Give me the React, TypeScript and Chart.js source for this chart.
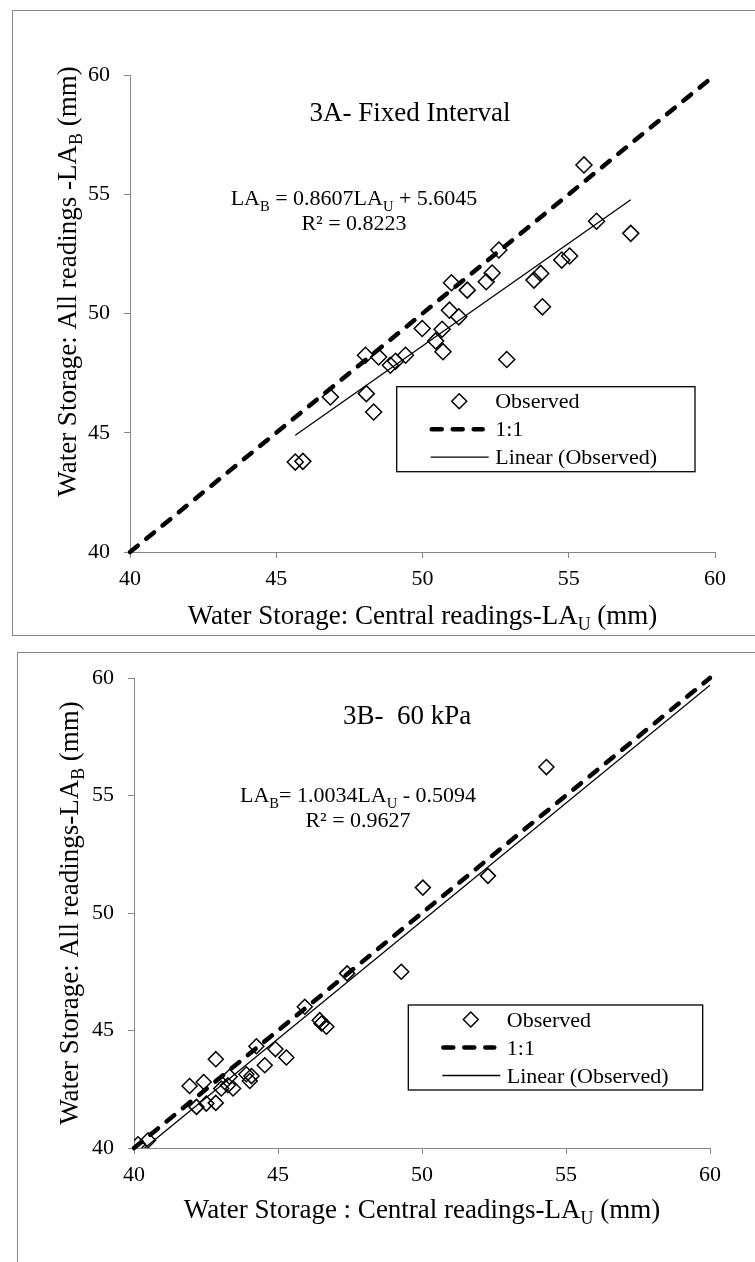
import React, { useEffect, useRef } from 'react';
import { Chart, registerables } from 'chart.js';

Chart.register(...registerables);

const FONT = "'Liberation Serif', 'Times New Roman', serif";
const GRAY = '#868686';

// ---------- Data: chart 3A (Fixed Interval) ----------
const obsXA = [55.52, 55.95, 57.12, 52.61, 52.38, 52.18, 50.99, 51.53, 50.92, 51.24,
  50.67, 49.99, 50.45, 50.70, 49.42, 49.08, 48.90, 48.05, 48.50, 48.08,
  48.33, 46.85, 45.65, 45.91, 54.10, 52.88, 53.81, 54.04, 54.76, 55.03];
const obsYA = [56.23, 53.87, 53.36, 52.66, 51.70, 51.33, 51.29, 50.98, 50.14, 49.86,
  49.34, 49.37, 48.85, 48.40, 48.25, 48.00, 47.83, 48.25, 48.18, 46.64,
  45.87, 46.50, 43.77, 43.80, 50.28, 48.07, 51.40, 51.68, 52.24, 52.41];
const fitA = [0.8607, 5.6045]; // slope, intercept
const r2A = '0.8223';

// ---------- Data: chart 3B (60 kPa) ----------
const obsXB = [40.14, 40.49, 41.93, 42.42, 42.17, 42.51, 42.84, 42.84, 43.03, 43.26,
  43.44, 43.32, 43.90, 44.08, 44.02, 44.25, 44.54, 44.91, 45.29, 45.93,
  46.45, 46.51, 46.68, 47.40, 49.28, 50.03, 52.29, 54.32];
const obsYB = [40.16, 40.33, 42.64, 42.81, 41.75, 41.89, 41.92, 43.78, 42.53, 42.67,
  42.53, 43.03, 43.14, 43.06, 42.85, 44.33, 43.52, 44.21, 43.85, 46.01,
  45.44, 45.30, 45.16, 47.43, 47.50, 51.08, 51.58, 56.21];
const fitB = [1.0034, -0.5094];
const r2B = '0.9627';

// ---------- Axes ----------
const axisRange = [40, 60];
const axisStep = 5;
const seriesLabels = ['Observed', '1:1', 'Linear (Observed)'];

type Seg = { t: string; sub?: boolean };

function font(size: number) {
  return `${size}px ${FONT}`;
}

function drawRich(ctx: CanvasRenderingContext2D, segs: Seg[], x: number, yc: number, size: number) {
  const subSize = size * 0.66;
  const widths = segs.map((s) => {
    ctx.font = font(s.sub ? subSize : size);
    return ctx.measureText(s.t).width;
  });
  const total = widths.reduce((a, b) => a + b, 0);
  let cx = x - total / 2;
  const base = yc + size * 0.33;
  ctx.textAlign = 'left';
  ctx.textBaseline = 'alphabetic';
  segs.forEach((s, i) => {
    ctx.font = font(s.sub ? subSize : size);
    ctx.fillText(s.t, cx, s.sub ? base + size * 0.24 : base);
    cx += widths[i];
  });
}

type Params = {
  xs: number[];
  ys: number[];
  fit: number[];
  fitToAxisEnd: boolean;
  r: number;
  padTop: number;
  padRight: number;
  yW: number;
  xH: number;
  title: string;
  titleDX: number;
  titleDY: number;
  eq: Seg[];
  r2: string;
  eqDX: number;
  eqDY: number;
  xTitle: Seg[];
  xTitleDY: number;
  yTitle: Seg[];
  yTitleDX: number;
  yTitleShift: number;
  legend: { dx: number; dy: number; w: number; h: number };
};

function makeDecor(p: Params) {
  return {
    id: 'decor',
    afterDraw(chart: any) {
      const ctx: CanvasRenderingContext2D = chart.ctx;
      const ca = chart.chartArea;
      ctx.save();
      ctx.fillStyle = '#000';
      // chart title
      drawRich(ctx, [{ t: p.title }], ca.left + p.titleDX, ca.top + p.titleDY, 27);
      // equation + R²
      drawRich(ctx, p.eq, ca.left + p.eqDX, ca.top + p.eqDY, 22);
      drawRich(ctx, [{ t: 'R² = ' + p.r2 }], ca.left + p.eqDX, ca.top + p.eqDY + 25, 22);
      // x title
      drawRich(ctx, p.xTitle, (ca.left + ca.right) / 2, ca.bottom + p.xTitleDY, 27);
      // y title
      ctx.save();
      ctx.translate(ca.left - p.yTitleDX, (ca.top + ca.bottom) / 2 + p.yTitleShift);
      ctx.rotate(-Math.PI / 2);
      drawRich(ctx, p.yTitle, 0, 0, 27);
      ctx.restore();

      // legend
      const L = p.legend;
      const bx = ca.left + L.dx;
      const by = ca.top + L.dy;
      ctx.lineWidth = 1.3;
      ctx.strokeStyle = '#000';
      ctx.setLineDash([]);
      ctx.strokeRect(bx, by, L.w, L.h);
      const dss = chart.data.datasets;
      dss.forEach((ds: any, i: number) => {
        const cy = by + 14.5 + i * 28;
        ctx.strokeStyle = '#000';
        if (i === 0) {
          const r = 7.5;
          const cx = bx + 62.5;
          ctx.lineWidth = 1.5;
          ctx.setLineDash([]);
          ctx.beginPath();
          ctx.moveTo(cx - r, cy);
          ctx.lineTo(cx, cy - r);
          ctx.lineTo(cx + r, cy);
          ctx.lineTo(cx, cy + r);
          ctx.closePath();
          ctx.stroke();
        } else {
          const x0 = bx + (i === 1 ? 35 : 34);
          const x1 = bx + (i === 1 ? 86 : 92);
          ctx.lineWidth = ds.borderWidth;
          ctx.setLineDash(ds.borderDash || []);
          ctx.lineCap = ds.borderCapStyle || 'butt';
          ctx.beginPath();
          ctx.moveTo(x0, cy);
          ctx.lineTo(x1, cy);
          ctx.stroke();
          ctx.setLineDash([]);
          ctx.lineCap = 'butt';
        }
        ctx.font = font(22);
        ctx.textAlign = 'left';
        ctx.textBaseline = 'alphabetic';
        ctx.fillText(ds.label, bx + 98.5, cy + 22 * 0.33);
      });
      ctx.restore();
    },
  };
}

function makeConfig(p: Params): any {
  const pts = p.xs.map((x, i) => ({ x, y: p.ys[i] }));
  const xmin = Math.min(...p.xs);
  const xmax = p.fitToAxisEnd ? axisRange[1] : Math.max(...p.xs);
  const fitPts = [
    { x: xmin, y: p.fit[0] * xmin + p.fit[1] },
    { x: xmax, y: p.fit[0] * xmax + p.fit[1] },
  ];
  const onePts = [
    { x: axisRange[0], y: axisRange[0] },
    { x: axisRange[1], y: axisRange[1] },
  ];
  const tickFont = { family: FONT, size: 22 };
  return {
    type: 'scatter',
    data: {
      datasets: [
        {
          label: seriesLabels[0],
          data: pts,
          pointStyle: 'rectRot',
          pointRadius: p.r,
          pointHoverRadius: p.r,
          pointBorderWidth: 1.5,
          pointBorderColor: '#000',
          pointBackgroundColor: 'rgba(0,0,0,0)',
          borderColor: '#000',
          backgroundColor: 'rgba(0,0,0,0)',
          showLine: false,
          order: 3,
        },
        {
          label: seriesLabels[1],
          data: onePts,
          showLine: true,
          borderColor: '#000',
          borderWidth: 4.5,
          borderDash: [10, 11],
          borderCapStyle: 'round',
          pointRadius: 0,
          fill: false,
          clip: false,
          order: 2,
        },
        {
          label: seriesLabels[2],
          data: fitPts,
          showLine: true,
          borderColor: '#000',
          borderWidth: 1.3,
          pointRadius: 0,
          fill: false,
          order: 1,
        },
      ],
    },
    options: {
      animation: false,
      responsive: false,
      maintainAspectRatio: false,
      events: [],
      layout: { padding: { top: p.padTop, right: p.padRight, left: 0, bottom: 0 } },
      plugins: {
        legend: { display: false },
        tooltip: { enabled: false },
        title: { display: false },
      },
      scales: {
        x: {
          type: 'linear',
          position: 'bottom',
          min: axisRange[0],
          max: axisRange[1],
          ticks: { stepSize: axisStep, font: tickFont, color: '#000', padding: 8, maxRotation: 0, autoSkip: false },
          grid: { drawOnChartArea: false, drawTicks: true, tickLength: 6, color: GRAY, lineWidth: 1 },
          border: { display: true, color: GRAY, width: 1 },
          title: { display: false },
          afterFit: (s: any) => {
            s.height = p.xH;
          },
        },
        y: {
          type: 'linear',
          position: 'left',
          min: axisRange[0],
          max: axisRange[1],
          ticks: { stepSize: axisStep, font: tickFont, color: '#000', padding: 14, autoSkip: false },
          grid: { drawOnChartArea: false, drawTicks: true, tickLength: 6, color: GRAY, lineWidth: 1 },
          border: { display: true, color: GRAY, width: 1 },
          title: { display: false },
          afterFit: (s: any) => {
            s.width = p.yW;
          },
        },
      },
    },
    plugins: [makeDecor(p)],
  };
}

const paramsA: Params = {
  xs: obsXA,
  ys: obsYA,
  fit: fitA,
  fitToAxisEnd: false,
  r: 8,
  padTop: 75,
  padRight: 40,
  yW: 130,
  xH: 88,
  title: '3A- Fixed Interval',
  titleDX: 280,
  titleDY: 37,
  eq: [{ t: 'LA' }, { t: 'B', sub: true }, { t: ' = ' + fitA[0].toFixed(4) + 'LA' }, { t: 'U', sub: true }, { t: ' + ' + fitA[1].toFixed(4) }],
  r2: r2A,
  eqDX: 224,
  eqDY: 123,
  xTitle: [{ t: 'Water Storage: Central readings-LA' }, { t: 'U', sub: true }, { t: ' (mm)' }],
  xTitleDY: 63,
  yTitle: [{ t: 'Water Storage: All readings -LA' }, { t: 'B', sub: true }, { t: ' (mm)' }],
  yTitleDX: 63,
  yTitleShift: -32,
  legend: { dx: 266.7, dy: 311.7, w: 298.3, h: 85 },
};

const paramsB: Params = {
  xs: obsXB,
  ys: obsYB,
  fit: fitB,
  fitToAxisEnd: true,
  r: 7.5,
  padTop: 33,
  padRight: 45,
  yW: 134,
  xH: 114,
  title: '3B-  60 kPa',
  titleDX: 273,
  titleDY: 37,
  eq: [{ t: 'LA' }, { t: 'B', sub: true }, { t: '= ' + fitB[0].toFixed(4) + 'LA' }, { t: 'U', sub: true }, { t: ' - ' + Math.abs(fitB[1]).toFixed(4) }],
  r2: r2B,
  eqDX: 224,
  eqDY: 117,
  xTitle: [{ t: 'Water Storage : Central readings-LA' }, { t: 'U', sub: true }, { t: ' (mm)' }],
  xTitleDY: 61,
  yTitle: [{ t: 'Water Storage: All readings-LA' }, { t: 'B', sub: true }, { t: ' (mm)' }],
  yTitleDX: 65,
  yTitleShift: 0,
  legend: { dx: 274.3, dy: 327, w: 294.4, h: 85 },
};

export default function App() {
  const topRef = useRef<HTMLCanvasElement>(null);
  const botRef = useRef<HTMLCanvasElement>(null);

  useEffect(() => {
    const charts: Chart[] = [];
    if (topRef.current) charts.push(new Chart(topRef.current, makeConfig(paramsA)));
    if (botRef.current) charts.push(new Chart(botRef.current, makeConfig(paramsB)));
    return () => charts.forEach((c) => c.destroy());
  }, []);

  return (
    <div
      style={{
        position: 'fixed',
        left: 0,
        top: 0,
        width: 755,
        height: 1262,
        overflow: 'hidden',
        background: '#fff',
      }}
    >
      <div
        style={{
          position: 'absolute',
          left: 12,
          top: 10,
          width: 800,
          height: 626,
          border: `1px solid ${GRAY}`,
          boxSizing: 'border-box',
        }}
      />
      <div
        style={{
          position: 'absolute',
          left: 17,
          top: 652,
          width: 800,
          height: 700,
          border: `1px solid ${GRAY}`,
          boxSizing: 'border-box',
        }}
      />
      <canvas ref={topRef} width={755} height={640} style={{ position: 'absolute', left: 0, top: 0 }} />
      <canvas ref={botRef} width={755} height={617} style={{ position: 'absolute', left: 0, top: 645 }} />
    </div>
  );
}
